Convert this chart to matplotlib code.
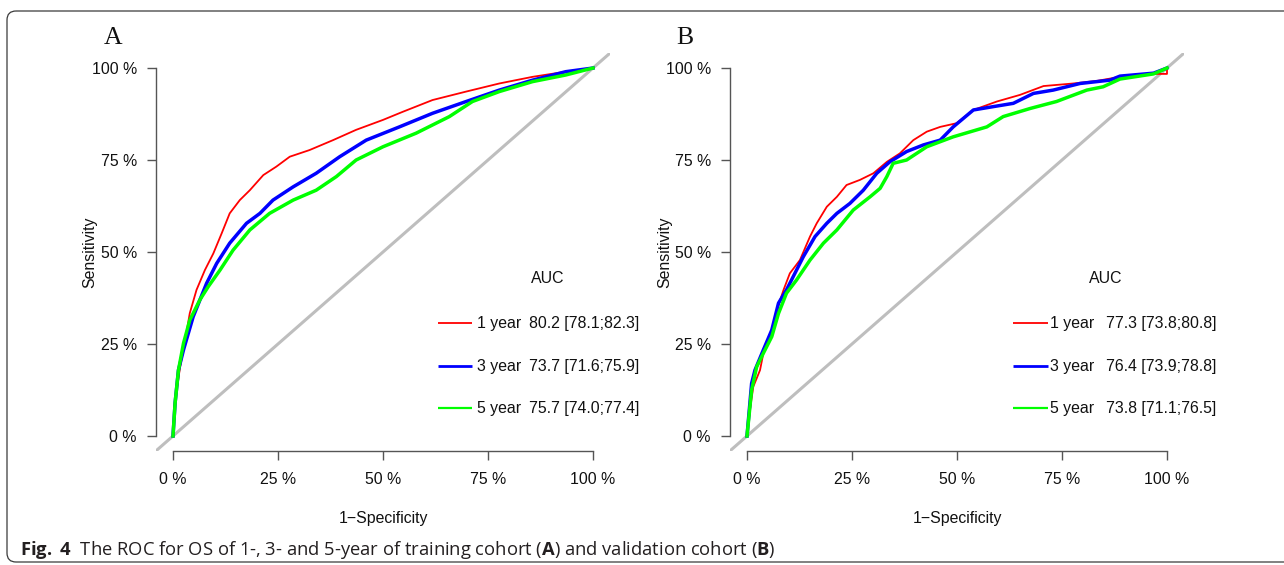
import matplotlib
matplotlib.use("Agg")
import matplotlib.pyplot as plt
from matplotlib.patches import FancyBboxPatch

W, H = 1284, 565

# ---- data ----
# panel A, training cohort
a_fpr_1y = [0, 0.005, 0.017, 0.029, 0.040, 0.056, 0.076, 0.096, 0.116, 0.135, 0.159, 0.183, 0.215,
            0.246, 0.278, 0.325, 0.381, 0.436, 0.500, 0.547, 0.618, 0.698, 0.777, 0.856, 0.935, 1.0]
a_tpr_1y = [0, 0.098, 0.188, 0.261, 0.334, 0.397, 0.451, 0.496, 0.551, 0.605, 0.641, 0.668, 0.709,
            0.732, 0.759, 0.777, 0.804, 0.832, 0.859, 0.881, 0.913, 0.936, 0.958, 0.976, 0.990, 1.0]
a_fpr_3y = [0, 0.005, 0.013, 0.025, 0.048, 0.080, 0.104, 0.135, 0.175, 0.207, 0.238, 0.286, 0.341,
            0.397, 0.460, 0.539, 0.618, 0.698, 0.777, 0.856, 0.935, 1.0]
a_tpr_3y = [0, 0.09, 0.179, 0.234, 0.324, 0.415, 0.469, 0.524, 0.578, 0.605, 0.641, 0.677, 0.714,
            0.759, 0.804, 0.840, 0.877, 0.909, 0.940, 0.967, 0.990, 1.0]
a_fpr_5y = [0, 0.005, 0.013, 0.025, 0.040, 0.064, 0.084, 0.112, 0.143, 0.183, 0.230, 0.286, 0.341,
            0.389, 0.436, 0.500, 0.579, 0.658, 0.713, 0.777, 0.856, 0.935, 1.0]
a_tpr_5y = [0, 0.09, 0.179, 0.252, 0.315, 0.370, 0.406, 0.451, 0.505, 0.560, 0.605, 0.641, 0.668,
            0.705, 0.750, 0.786, 0.823, 0.868, 0.909, 0.936, 0.963, 0.981, 1.0]

# panel B, validation cohort
b_fpr_1y = [0, 0.007, 0.015, 0.031, 0.039, 0.055, 0.071, 0.087, 0.102, 0.126, 0.150, 0.166, 0.190,
            0.214, 0.237, 0.269, 0.301, 0.333, 0.364, 0.396, 0.428, 0.460, 0.499, 0.539, 0.595,
            0.650, 0.706, 0.777, 0.833, 0.888, 0.968, 1.0, 1.0]
b_tpr_1y = [0, 0.071, 0.134, 0.179, 0.225, 0.261, 0.342, 0.397, 0.442, 0.478, 0.542, 0.578, 0.623,
            0.650, 0.682, 0.696, 0.714, 0.745, 0.768, 0.804, 0.827, 0.840, 0.850, 0.886, 0.909,
            0.927, 0.951, 0.958, 0.965, 0.976, 0.984, 0.984, 1.0]
b_fpr_3y = [0, 0.011, 0.019, 0.039, 0.059, 0.075, 0.094, 0.110, 0.134, 0.162, 0.190, 0.214, 0.245,
            0.277, 0.309, 0.340, 0.380, 0.420, 0.460, 0.491, 0.539, 0.586, 0.634, 0.682, 0.729,
            0.793, 0.864, 0.888, 0.968, 1.0]
b_tpr_3y = [0, 0.143, 0.179, 0.234, 0.288, 0.361, 0.397, 0.433, 0.487, 0.542, 0.578, 0.605, 0.632,
            0.668, 0.714, 0.745, 0.773, 0.791, 0.804, 0.840, 0.886, 0.895, 0.904, 0.931, 0.940,
            0.958, 0.967, 0.978, 0.986, 1.0]
b_fpr_5y = [0, 0.011, 0.023, 0.039, 0.059, 0.075, 0.094, 0.118, 0.150, 0.182, 0.214, 0.253, 0.293,
            0.317, 0.333, 0.348, 0.380, 0.428, 0.491, 0.571, 0.610, 0.674, 0.737, 0.809, 0.848,
            0.888, 0.968, 1.0]
b_tpr_5y = [0, 0.125, 0.188, 0.225, 0.270, 0.333, 0.388, 0.424, 0.478, 0.524, 0.560, 0.614, 0.650,
            0.673, 0.705, 0.741, 0.750, 0.786, 0.813, 0.840, 0.868, 0.890, 0.909, 0.940, 0.949,
            0.970, 0.984, 1.0]

years = ["1 year", "3 year", "5 year"]
auc_a = ["80.2 [78.1;82.3]", "73.7 [71.6;75.9]", "75.7 [74.0;77.4]"]
auc_b = ["77.3 [73.8;80.8]", "76.4 [73.9;78.8]", "73.8 [71.1;76.5]"]
ticks = [0, 0.25, 0.5, 0.75, 1.0]
tick_labels = ["0 %", "25 %", "50 %", "75 %", "100 %"]

colors = ["#FF0000", "#0000FF", "#00FF00"]
curve_lw = [1.3, 2.5, 2.5]
key_lw = [1.3, 2.0, 1.6]
FS = 11.4
INK = "#111111"

plt.rcParams["font.family"] = ["Liberation Sans", "DejaVu Sans"]
plt.rcParams["mathtext.fontset"] = "custom"
plt.rcParams["mathtext.rm"] = "Open Sans"
plt.rcParams["mathtext.bf"] = "Open Sans:bold"

fig = plt.figure(figsize=(W / 100, H / 100), dpi=100)

# pixel-space layer for frame and caption
bg = fig.add_axes([0, 0, 1, 1])
bg.set_xlim(0, W)
bg.set_ylim(H, 0)
bg.axis("off")
bg.add_patch(FancyBboxPatch((7, 11), 1310, 551, boxstyle="round,pad=0,rounding_size=9",
                            fc="none", ec="#3a3a3a", lw=0.9))
bg.text(20, 555, r"$\mathbf{Fig.\;4}$  The ROC for OS of 1-, 3- and 5-year of training cohort "
        r"($\mathbf{A}$) and validation cohort ($\mathbf{B}$)",
        family="Open Sans", fontsize=13.2, color="#231f20", va="baseline", ha="left")


def panel(left, letter, letter_x, ylab_x, curves, aucs, key_x0, key_x1, txt_x, val_x, auc_x):
    right = left + 453.6
    top, bottom = 53.3, 450.7
    ax = fig.add_axes([left / W, 1 - bottom / H, (right - left) / W, (bottom - top) / H])
    ax.set_xlim(-0.04, 1.04)
    ax.set_ylim(-0.04, 1.04)
    ax.patch.set_alpha(0)
    for s in ["top", "right"]:
        ax.spines[s].set_visible(False)
    for s in ["left", "bottom"]:
        ax.spines[s].set_bounds(0, 1)
        ax.spines[s].set_color("#555555")
        ax.spines[s].set_linewidth(1.0)
    ax.set_xticks(ticks)
    ax.set_xticklabels(tick_labels)
    ax.set_yticks(ticks)
    ax.set_yticklabels(tick_labels)
    ax.tick_params(axis="both", length=6.5, width=1.0, color="#555555", labelsize=FS,
                   labelcolor=INK)
    ax.tick_params(axis="x", pad=8.5)
    ax.tick_params(axis="y", pad=7.5)

    ax.plot([-0.04, 1.04], [-0.04, 1.04], color="#BEBEBE", lw=2.2, zorder=1)
    for (fx, ty), c, lw in zip(curves, colors, curve_lw):
        ax.plot(fx, ty, color=c, lw=lw, zorder=2, solid_joinstyle="round")

    # legend block, R style
    ax.text(auc_x, 0.429, "AUC", ha="center", va="center", fontsize=FS, color=INK)
    for i, (yr, val) in enumerate(zip(years, aucs)):
        yy = [0.307, 0.190, 0.076][i]
        ax.plot([key_x0, key_x1], [yy, yy], color=colors[i], lw=key_lw[i], solid_capstyle="butt")
        ax.text(txt_x, yy, yr, ha="left", va="center", fontsize=FS, color=INK)
        ax.text(val_x, yy, val, ha="left", va="center", fontsize=FS, color=INK)

    cx = left + 16.8 + 210
    bg.text(cx, 518, "1\u2212Specificity", ha="center", va="center", fontsize=FS, color=INK)
    bg.text(ylab_x, 252, "Sensitivity", ha="center", va="center", rotation=90, fontsize=FS,
            color=INK)
    bg.text(letter_x, 38, letter, ha="center", va="center", family="Liberation Serif",
            fontsize=18.5, color=INK)


panel(156.2, "A", 113, 90,
      [(a_fpr_1y, a_tpr_1y), (a_fpr_3y, a_tpr_3y), (a_fpr_5y, a_tpr_5y)], auc_a,
      0.632, 0.713, 0.724, 0.848, 0.891)
panel(730.2, "B", 685, 665,
      [(b_fpr_1y, b_tpr_1y), (b_fpr_3y, b_tpr_3y), (b_fpr_5y, b_tpr_5y)], auc_b,
      0.633, 0.717, 0.721, 0.855, 0.855)

fig.savefig("out.png", dpi=100)
